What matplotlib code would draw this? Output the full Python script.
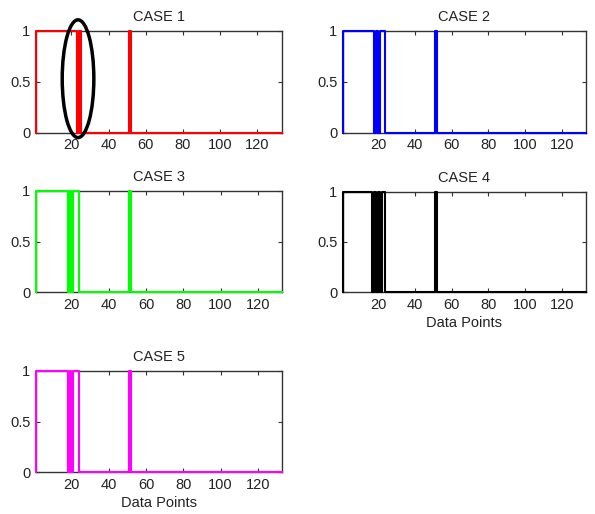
import numpy as np
import matplotlib
matplotlib.use("Agg")
import matplotlib.pyplot as plt
from matplotlib.patches import Ellipse

# binary state read per data point, first 56 points; remainder is 0
case1_head = [0] + [1]*22 + [0, 1] + [0]*26 + [1] + [0]*4
case2_head = [0] + [1]*17 + [0, 1, 0, 1, 1, 1] + [0]*27 + [1] + [0]*4
case3_head = [0] + [1]*17 + [0, 1, 0, 1, 1, 1] + [0]*27 + [1] + [0]*4
case4_head = [0] + [1]*16 + [0, 1, 0, 1, 0, 1, 1] + [0]*27 + [1] + [0]*4
case5_head = [0] + [1]*17 + [0, 1, 0, 1, 1, 1] + [0]*27 + [1] + [0]*4
n_points = 133

titles = ["CASE 1", "CASE 2", "CASE 3", "CASE 4", "CASE 5"]
colors = ["red", "blue", "#00ff00", "black", "magenta"]
heads = [case1_head, case2_head, case3_head, case4_head, case5_head]
xlabels = ["", "", "", "Data Points", "Data Points"]

# axes boxes in pixels: left, right, top, bottom
W, H = 595, 514
boxes = [(36, 281.5, 31, 132.5),
         (343, 586, 31, 132.5),
         (36, 282, 191, 292),
         (343, 586, 191.5, 292),
         (36, 282, 371, 472)]

plt.rcParams['font.family'] = ['Liberation Sans', 'DejaVu Sans']
plt.rcParams['font.size'] = 10.5

fig = plt.figure(figsize=(W/100, H/100), dpi=100)
x = np.arange(1, n_points + 1)

axes = []
for i in range(5):
    l, r, t, b = boxes[i]
    ax = fig.add_axes([l/W, 1 - b/H, (r - l)/W, (b - t)/H])
    y = np.array(heads[i] + [0]*(n_points - len(heads[i])))
    ax.plot(x, y, color=colors[i], lw=1.5, drawstyle='steps-pre',
            zorder=3, clip_on=False)
    ax.set_xlim(1, n_points)
    ax.set_ylim(0, 1)
    ax.set_xticks([20, 40, 60, 80, 100, 120])
    ax.set_yticks([0, 0.5, 1])
    ax.set_yticklabels(["0", "0.5", "1"])
    ax.tick_params(direction='in', length=3, width=0.8, top=True, right=True,
                   colors='#333333', labelcolor='#222222', pad=4)
    for s in ax.spines.values():
        s.set_color('#333333')
        s.set_linewidth(1.0)
    ax.set_title(titles[i], fontsize=10.5, color='#222222', pad=7)
    if xlabels[i]:
        ax.set_xlabel(xlabels[i], fontsize=10.5, color='#222222', labelpad=3.5)
    axes.append(ax)

# highlight ring on case 1
axes[0].add_patch(Ellipse((23.6, 0.53), 17, 1.16, fill=False, ec='black',
                          lw=2.5, clip_on=False, zorder=5))

fig.savefig("out.png", dpi=100)
